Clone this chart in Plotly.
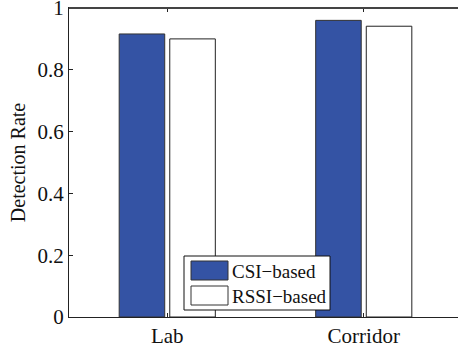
import plotly.graph_objects as go

categories = ["Lab", "Corridor"]
csi_values = [0.916, 0.960]
rssi_values = [0.900, 0.941]
series_names = ["CSI\u2212based", "RSSI\u2212based"]
y_ticks = [0, 0.2, 0.4, 0.6, 0.8, 1]
y_tick_labels = ["0", "0.2", "0.4", "0.6", "0.8", "1"]

W, H = 462, 351
L, R, T, B = 69, 0, 8, 34
pw, ph = W - L - R, H - T - B

def px(x):
    return (x - L) / pw

def py(y):
    return (H - B - y) / ph

blue = "#3453A4"
axis_color = "#222222"
font_family = "Liberation Serif, Times New Roman, serif"

x_pos = [1, 2]
fig = go.Figure()
fig.add_trace(go.Bar(x=x_pos, y=csi_values, name=series_names[0],
                     marker=dict(color=blue, line=dict(color="#333333", width=1)),
                     showlegend=False))
fig.add_trace(go.Bar(x=x_pos, y=rssi_values, name=series_names[1],
                     marker=dict(color="white", line=dict(color="#222222", width=1)),
                     showlegend=False))

shapes = [
    dict(type="line", xref="paper", yref="paper", x0=0, x1=1, y0=1, y1=1,
         line=dict(color="#444444", width=2)),
    # custom legend
    dict(type="rect", xref="paper", yref="paper", x0=px(184), x1=px(330), y0=py(310), y1=py(256),
         fillcolor="white", line=dict(color="#111111", width=1)),
    dict(type="rect", xref="paper", yref="paper", x0=px(191), x1=px(228), y0=py(280), y1=py(261),
         fillcolor=blue, line=dict(color="#333333", width=1)),
    dict(type="rect", xref="paper", yref="paper", x0=px(191), x1=px(228), y0=py(305), y1=py(286),
         fillcolor="white", line=dict(color="#333333", width=1)),
]
annotations = [
    dict(xref="paper", yref="paper", x=px(230), y=py(271), text=series_names[0], showarrow=False,
         xanchor="left", yanchor="middle", font=dict(family=font_family, size=19, color="#111111")),
    dict(xref="paper", yref="paper", x=px(230), y=py(296), text=series_names[1], showarrow=False,
         xanchor="left", yanchor="middle", font=dict(family=font_family, size=19, color="#111111")),
]

fig.update_layout(
    width=W, height=H,
    margin=dict(l=L, r=R, t=T, b=B, pad=0, autoexpand=False),
    paper_bgcolor="white", plot_bgcolor="white",
    barmode="group", bargap=0.485, bargroupgap=0.1,
    font=dict(family=font_family, size=21, color="#111111"),
    shapes=shapes, annotations=annotations,
    xaxis=dict(range=[0.5, 2.5], tickvals=x_pos, ticktext=categories,
               showline=True, linecolor=axis_color, linewidth=1, mirror="ticks",
               ticks="inside", ticklen=4, tickcolor=axis_color, showgrid=False, zeroline=False,
               tickfont=dict(size=21), automargin=False),
    yaxis=dict(range=[0, 1], tickvals=y_ticks, ticktext=y_tick_labels,
               showline=True, linecolor=axis_color, linewidth=1, mirror="ticks",
               ticks="inside", ticklen=4, tickcolor=axis_color, showgrid=False, zeroline=False,
               tickfont=dict(size=21), ticklabeloverflow="allow", automargin=False,
               title=dict(text="Detection Rate", font=dict(size=20), standoff=6)),
)

fig.write_html("out.html", config={"displayModeBar": False},
               post_script="document.body.style.margin='0';document.body.style.overflow='hidden';")
